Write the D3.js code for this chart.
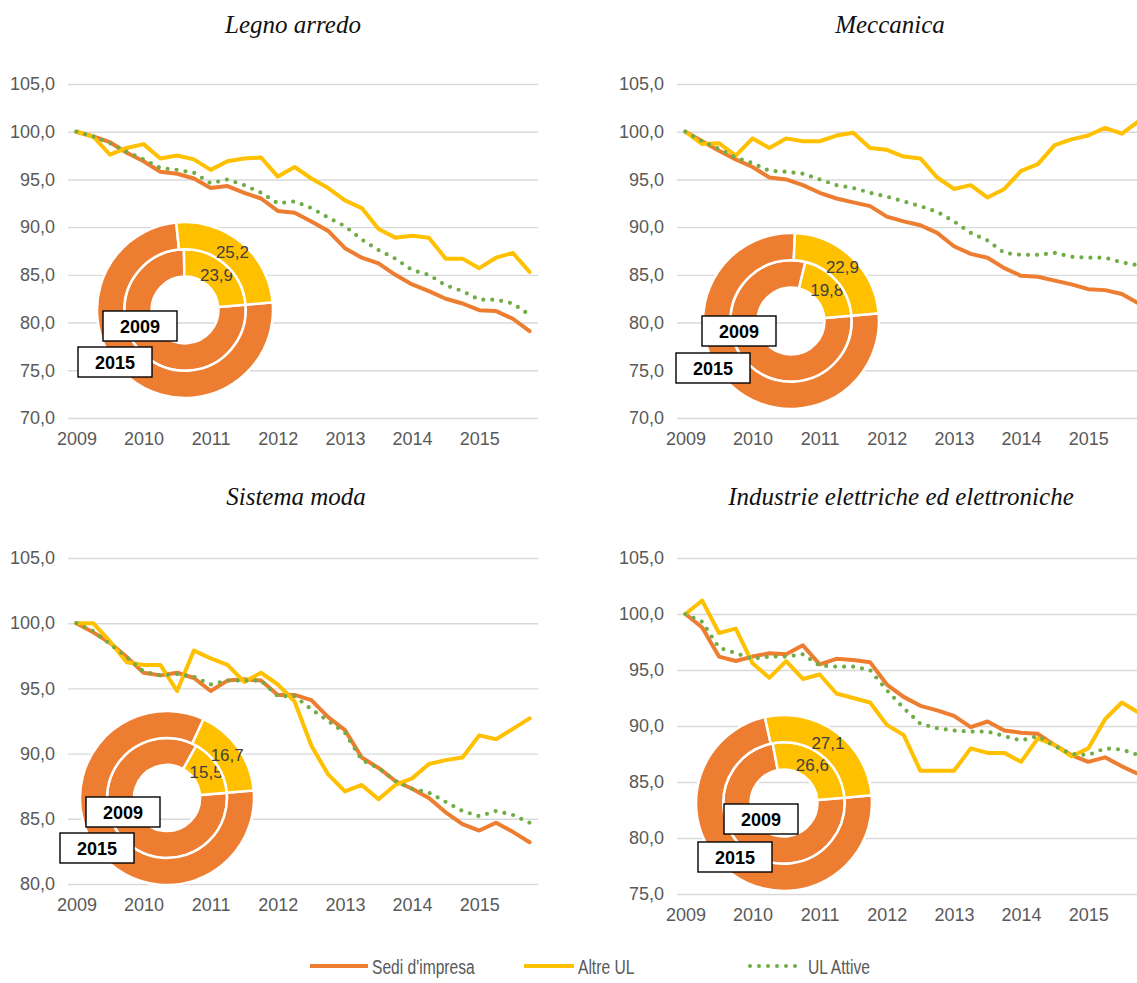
<!DOCTYPE html>
<html lang="it">
<head>
<meta charset="utf-8">
<title>Imprese e unità locali per settore, 2009-2015</title>
<script src="https://cdn.jsdelivr.net/npm/d3@7"></script>
<style>
  html, body { margin: 0; padding: 0; background: #ffffff; }
  svg { display: block; }
</style>
</head>
<body>
<svg id="chart" width="1137" height="983"></svg>
<script>
// ---- categories: quarters 2009-2015 ----
const years = ["2009", "2010", "2011", "2012", "2013", "2014", "2015"];
const quarterNames = ["I", "II", "III", "IV"];
const categories = years.flatMap(y => quarterNames.map(q => y + " " + q));
const yearTicks = years.map(y => y + " I");

// ---- y-axis ticks ----
const ticksTop = [70, 75, 80, 85, 90, 95, 100, 105];
const ticksModa = [80, 85, 90, 95, 100, 105];
const ticksElettr = [75, 80, 85, 90, 95, 100, 105];

// ---- Legno arredo (index 2009 = 100) ----
const legnoSedi  = [100, 99.5, 98.9, 97.8, 96.9, 95.8, 95.6, 95.1, 94.1, 94.3, 93.6, 93.0, 91.7, 91.5, 90.6, 89.6, 87.8, 86.8, 86.2, 85.0, 84.0, 83.3, 82.5, 82.0, 81.3, 81.2, 80.4, 79.1];
const legnoAltre = [100, 99.5, 97.6, 98.3, 98.7, 97.2, 97.5, 97.1, 96.0, 96.9, 97.2, 97.3, 95.3, 96.3, 95.1, 94.1, 92.8, 92.0, 89.8, 88.9, 89.1, 88.9, 86.7, 86.7, 85.7, 86.8, 87.3, 85.3];
const legnoUL    = [100, 99.5, 98.8, 97.9, 97.1, 96.2, 96.0, 95.7, 94.6, 95.0, 94.4, 93.6, 92.5, 92.7, 92.0, 91.0, 90.1, 88.7, 87.6, 86.7, 85.5, 85.0, 83.9, 83.3, 82.4, 82.4, 82.0, 80.8];

// ---- Meccanica ----
const meccSedi  = [100, 99.0, 98.0, 97.1, 96.3, 95.2, 95.0, 94.4, 93.6, 93.0, 92.6, 92.2, 91.1, 90.6, 90.2, 89.4, 88.0, 87.2, 86.8, 85.7, 84.9, 84.8, 84.4, 84.0, 83.5, 83.4, 83.0, 82.0];
const meccAltre = [100, 98.7, 98.8, 97.5, 99.3, 98.3, 99.3, 99.0, 99.0, 99.6, 99.9, 98.3, 98.1, 97.4, 97.2, 95.2, 94.0, 94.4, 93.1, 94.0, 95.9, 96.6, 98.6, 99.2, 99.6, 100.4, 99.8, 101.1];
const meccUL    = [100, 99.0, 98.2, 97.3, 96.7, 95.9, 95.8, 95.6, 95.0, 94.4, 94.1, 93.6, 93.2, 92.7, 92.2, 91.6, 90.6, 89.4, 88.6, 87.3, 87.1, 87.1, 87.3, 86.9, 86.8, 86.8, 86.3, 86.0];

// ---- Sistema moda ----
const modaSedi  = [100, 99.3, 98.5, 97.4, 96.2, 96.0, 96.2, 95.8, 94.8, 95.6, 95.7, 95.6, 94.5, 94.5, 94.1, 92.8, 91.8, 89.7, 88.9, 87.9, 87.3, 86.6, 85.5, 84.6, 84.1, 84.7, 84.0, 83.2];
const modaAltre = [100, 100.0, 98.6, 97.0, 96.8, 96.8, 94.8, 97.9, 97.3, 96.8, 95.5, 96.2, 95.3, 94.0, 90.6, 88.4, 87.1, 87.6, 86.5, 87.6, 88.1, 89.2, 89.5, 89.7, 91.4, 91.1, 91.9, 92.7];
const modaUL    = [100, 99.4, 98.4, 97.4, 96.3, 96.0, 96.1, 95.9, 95.3, 95.6, 95.6, 95.6, 94.4, 94.4, 93.4, 92.5, 91.6, 89.5, 88.9, 87.9, 87.3, 87.0, 86.3, 85.6, 85.2, 85.6, 85.3, 84.7];

// ---- Industrie elettriche ed elettroniche ----
const elettrSedi  = [100, 98.8, 96.2, 95.8, 96.2, 96.5, 96.4, 97.2, 95.5, 96.0, 95.9, 95.7, 93.7, 92.6, 91.8, 91.4, 90.9, 89.9, 90.4, 89.6, 89.4, 89.3, 88.3, 87.4, 86.8, 87.2, 86.4, 85.7];
const elettrAltre = [100, 101.2, 98.3, 98.7, 95.6, 94.3, 95.8, 94.2, 94.6, 92.9, 92.5, 92.1, 90.1, 89.2, 86.0, 86.0, 86.0, 88.0, 87.6, 87.6, 86.8, 88.9, 88.3, 87.3, 88.0, 90.6, 92.1, 91.2];
const elettrUL    = [100, 99.3, 97.0, 96.5, 96.0, 96.2, 96.2, 96.4, 95.4, 95.3, 95.3, 95.0, 93.2, 91.6, 90.2, 89.8, 89.6, 89.5, 89.5, 89.1, 88.7, 89.1, 88.2, 87.5, 87.4, 88.0, 87.9, 87.4];

// ---- composition (%) : Sedi d'impresa vs Altre UL ----
const legnoQuote2009  = [76.1, 23.9];
const legnoQuote2015  = [74.8, 25.2];
const meccQuote2009   = [80.2, 19.8];
const meccQuote2015   = [77.1, 22.9];
const modaQuote2009   = [84.5, 15.5];
const modaQuote2015   = [83.3, 16.7];
const elettrQuote2009 = [73.4, 26.6];
const elettrQuote2015 = [72.9, 27.1];

const seriesNames = ["Sedi d'impresa", "Altre UL", "UL Attive"];
const colors = { sedi: "#ED7D31", altre: "#FFC000", ul: "#70AD47" };

// ---- panel layout ----
const panels = [
  { title: "Legno arredo", titleX: 293, titleY: 33,
    x0: 68, x1: 538, yTop: 84, yBot: 418, domain: [70, 105], ticks: ticksTop,
    sedi: legnoSedi, altre: legnoAltre, ul: legnoUL,
    donut: { cx: 185, cy: 310, r: 88, inner: legnoQuote2009, outer: legnoQuote2015 },
    box2009: [103, 311], box2015: [78, 347] },
  { title: "Meccanica", titleX: 890, titleY: 33,
    x0: 677, x1: 1147, yTop: 84, yBot: 418, domain: [70, 105], ticks: ticksTop,
    sedi: meccSedi, altre: meccAltre, ul: meccUL,
    donut: { cx: 791, cy: 321, r: 88, inner: meccQuote2009, outer: meccQuote2015 },
    box2009: [702, 316], box2015: [676, 353] },
  { title: "Sistema moda", titleX: 296, titleY: 505,
    x0: 68, x1: 538, yTop: 558, yBot: 884, domain: [80, 105], ticks: ticksModa,
    sedi: modaSedi, altre: modaAltre, ul: modaUL,
    donut: { cx: 167, cy: 798, r: 87, inner: modaQuote2009, outer: modaQuote2015 },
    box2009: [86, 797], box2015: [60, 833] },
  { title: "Industrie elettriche ed elettroniche", titleX: 901, titleY: 505,
    x0: 677, x1: 1147, yTop: 558, yBot: 894, domain: [75, 105], ticks: ticksElettr,
    sedi: elettrSedi, altre: elettrAltre, ul: elettrUL,
    donut: { cx: 784, cy: 803, r: 88, inner: elettrQuote2009, outer: elettrQuote2015 },
    box2009: [724, 804], box2015: [698, 842] }
];

const itLocale = d3.formatLocale({ decimal: ",", thousands: ".", grouping: [3], currency: ["€", ""] });
const fmt1 = itLocale.format(".1f");

const svg = d3.select("#chart");
svg.append("rect").attr("width", 1137).attr("height", 983).attr("fill", "#ffffff");

const tickFont = "'Liberation Sans', Arial, sans-serif";
const startAngle = 85 * Math.PI / 180;

panels.forEach(p => {
  const g = svg.append("g");

  const x = d3.scalePoint().domain(categories).range([p.x0, p.x1]).padding(0.5);
  const y = d3.scaleLinear().domain(p.domain).range([p.yBot, p.yTop]);

  // title
  g.append("text")
    .attr("x", p.titleX).attr("y", p.titleY)
    .attr("text-anchor", "middle")
    .attr("font-family", "'Liberation Serif', 'Times New Roman', serif")
    .attr("font-style", "italic")
    .attr("font-size", 25)
    .attr("fill", "#111")
    .text(p.title);

  // y axis with gridlines
  const yAxis = g.append("g")
    .attr("transform", `translate(${p.x0},0)`)
    .call(d3.axisLeft(y).tickValues(p.ticks).tickFormat(fmt1)
      .tickSize(-(p.x1 - p.x0)).tickPadding(13));
  yAxis.select(".domain").remove();
  yAxis.selectAll(".tick line").attr("stroke", "#D9D9D9").attr("stroke-width", 1.4);
  yAxis.selectAll(".tick text")
    .attr("font-family", tickFont).attr("font-size", 18).attr("fill", "#595959");

  // x axis: one label per year
  const xAxis = g.append("g")
    .attr("transform", `translate(0,${p.yBot})`)
    .call(d3.axisBottom(x).tickValues(yearTicks).tickFormat(d => d.split(" ")[0])
      .tickSize(0).tickPadding(14));
  xAxis.select(".domain").remove();
  xAxis.selectAll(".tick text")
    .attr("font-family", tickFont).attr("font-size", 18).attr("fill", "#595959");

  // lines
  const line = d3.line().x((d, i) => x(categories[i])).y(d => y(d));
  g.append("path").datum(p.sedi).attr("d", line)
    .attr("fill", "none").attr("stroke", colors.sedi).attr("stroke-width", 4)
    .attr("stroke-linejoin", "round").attr("stroke-linecap", "round");
  g.append("path").datum(p.altre).attr("d", line)
    .attr("fill", "none").attr("stroke", colors.altre).attr("stroke-width", 4)
    .attr("stroke-linejoin", "round").attr("stroke-linecap", "round");
  g.append("path").datum(p.ul).attr("d", line)
    .attr("fill", "none").attr("stroke", colors.ul).attr("stroke-width", 4.2)
    .attr("stroke-dasharray", "0 9").attr("stroke-linecap", "round");

  // doughnut: inner ring 2009, outer ring 2015
  const d = p.donut;
  const pie = d3.pie().sort(null).startAngle(startAngle).endAngle(startAngle + 2 * Math.PI);
  const rings = [
    { vals: d.inner, r0: d.r * 0.38, r1: d.r * 0.69 },
    { vals: d.outer, r0: d.r * 0.69, r1: d.r }
  ];
  const dg = g.append("g").attr("transform", `translate(${d.cx},${d.cy})`);
  rings.forEach(ring => {
    const arc = d3.arc().innerRadius(ring.r0).outerRadius(ring.r1);
    const arcs = pie(ring.vals);
    dg.selectAll(null).data(arcs).enter().append("path")
      .attr("d", arc)
      .attr("fill", (a, i) => i === 0 ? colors.sedi : colors.altre)
      .attr("stroke", "#ffffff").attr("stroke-width", 2.5);
    const c = arc.centroid(arcs[1]);
    dg.append("text")
      .attr("x", c[0]).attr("y", c[1])
      .attr("text-anchor", "middle").attr("dominant-baseline", "central")
      .attr("font-family", tickFont).attr("font-size", 17).attr("fill", "#404040")
      .text(fmt1(ring.vals[1]));
  });

  // year tags
  [["2009", p.box2009], ["2015", p.box2015]].forEach(([label, pos]) => {
    const bw = 74, bh = 30;
    g.append("rect")
      .attr("x", pos[0]).attr("y", pos[1]).attr("width", bw).attr("height", bh)
      .attr("fill", "#ffffff").attr("stroke", "#000000").attr("stroke-width", 1.4);
    g.append("text")
      .attr("x", pos[0] + bw / 2).attr("y", pos[1] + bh / 2 + 1)
      .attr("text-anchor", "middle").attr("dominant-baseline", "central")
      .attr("font-family", tickFont).attr("font-weight", "bold").attr("font-size", 18)
      .attr("fill", "#000").text(label);
  });
});

// ---- legend (condensed labels) ----
const legendItems = [
  { name: seriesNames[0], color: colors.sedi, dash: null, lx: 310, len: 58 },
  { name: seriesNames[1], color: colors.altre, dash: null, lx: 524, len: 50 },
  { name: seriesNames[2], color: colors.ul, dash: "0 9", lx: 750, len: 54 }
];
const lg = svg.append("g").attr("transform", "translate(0,966)");
legendItems.forEach(it => {
  const seg = lg.append("line")
    .attr("x1", it.lx).attr("x2", it.lx + it.len).attr("y1", 0).attr("y2", 0)
    .attr("stroke", it.color).attr("stroke-width", 4).attr("stroke-linecap", it.dash ? "round" : "butt");
  if (it.dash) seg.attr("stroke-dasharray", it.dash);
  const t = lg.append("text")
    .attr("x", it.lx + it.len + 4).attr("y", 1)
    .attr("dominant-baseline", "central")
    .attr("font-family", tickFont)
    .attr("font-size", 20).attr("fill", "#595959")
    .text(it.name);
  const w = t.node().getComputedTextLength();
  t.attr("textLength", w * 0.78).attr("lengthAdjust", "spacingAndGlyphs");
});
</script>
</body>
</html>
